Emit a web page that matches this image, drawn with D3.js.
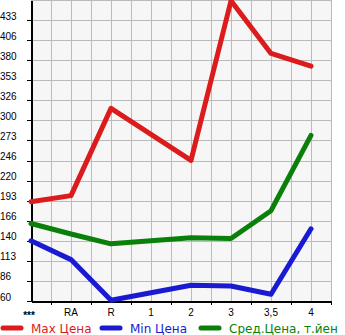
<!DOCTYPE html>
<html>
<head>
<meta charset="utf-8">
<script src="https://cdn.jsdelivr.net/npm/d3@7"></script>
<style>
    body { margin: 0; background: #fff; }
    svg { display: block; font-family: 'DejaVu Sans', sans-serif; }
    .grid line { stroke: #bbb; stroke-width: 1; shape-rendering: crispEdges; }
    .axis path, .axis line { stroke: #000; shape-rendering: crispEdges; }
    .axis text { font-size: 10px; fill: #000; }
    .series { fill: none; stroke-width: 5; stroke-linecap: round; stroke-linejoin: round; }
</style>
</head>
<body>
<svg id="chart"></svg>
<script>
const categories = ['***', 'RA', 'R', '1', '2', '3', '3,5', '4']
const maxPrice = [192, 200, 316, null, 247, 459, 389, 372]
const minPrice = [140, 115, 61, null, 81, 80, 69, 156]
const avgPrice = [163, 149, 136, null, 144, 143, 180, 280]
const yTickValues = [60, 86.67, 113.33, 140, 166.67, 193.33, 220, 246.67, 273.33, 300, 326.67, 353.33, 380, 406.67, 433.33]

const series = [
    { name: 'Max Цена', values: maxPrice, color: '#dc1c1c' },
    { name: 'Min Цена', values: minPrice, color: '#1a1ad2' },
    { name: 'Сред.Цена, т.йен', values: avgPrice, color: '#0a7f0a' },
]

const width = 345
const height = 335
const plotLeft = 31, plotRight = 331, plotTop = 0, plotBottom = 301

const svg = d3.select('#chart')
    .attr('width', width)
    .attr('height', height)

const x = d3.scaleLinear().domain([0, 7.5]).range([plotLeft, plotRight])
const y = d3.scaleLinear().domain([60, 460]).range([plotBottom, plotTop])

// plot background
svg.append('rect')
    .attr('x', plotLeft).attr('y', plotTop)
    .attr('width', plotRight - plotLeft).attr('height', plotBottom - plotTop)
    .attr('fill', '#f6f6f6')

// grid
const grid = svg.append('g').classed('grid', true)
grid.selectAll('line.v')
    .data(d3.range(0.5, 7.51, 0.5))
    .join('line')
    .attr('class', 'v')
    .attr('x1', d => Math.round(x(d)) + 0.5).attr('x2', d => Math.round(x(d)) + 0.5)
    .attr('y1', plotTop).attr('y2', plotBottom)
grid.selectAll('line.h')
    .data(yTickValues.concat([460]))
    .join('line')
    .attr('class', 'h')
    .attr('x1', plotLeft).attr('x2', plotRight)
    .attr('y1', d => Math.round(y(d)) + 0.5).attr('y2', d => Math.round(y(d)) + 0.5)

// y axis
const yAxis = svg.append('g')
    .classed('axis', true)
    .attr('transform', `translate(${plotLeft},0)`)
    .call(d3.axisLeft(y).tickValues(yTickValues).tickFormat(d => Math.floor(d)).tickSize(4).tickSizeOuter(0))
yAxis.select('.domain').attr('stroke-width', 2)
yAxis.selectAll('.tick text')
    .attr('text-anchor', 'start')
    .attr('x', -31)
    .attr('dy', '-0.1em')

// x axis: ticks between categories, labels on categories
const xAxis = svg.append('g')
    .classed('axis', true)
    .attr('transform', `translate(0,${plotBottom})`)
    .call(d3.axisBottom(x).tickValues(d3.range(0.5, 7.51, 1)).tickFormat('').tickSize(4).tickSizeOuter(0))
xAxis.select('.domain').attr('stroke-width', 2)
xAxis.selectAll('.label')
    .data(categories)
    .join('text')
    .attr('class', 'label')
    .attr('x', (d, i) => x(i) - (i === 0 ? 2 : 0))
    .attr('y', (d, i) => i === 0 ? 18 : 15)  // asterisks sit lower in the original
    .attr('text-anchor', 'middle')
    .style('font-weight', (d, i) => i === 0 ? 'bold' : null)
    .text(d => d)

// lines
const line = d3.line()
    .x(d => x(d[0]))
    .y(d => y(d[1]))

svg.append('g')
    .selectAll('path')
    .data(series)
    .join('path')
    .classed('series', true)
    .attr('stroke', d => d.color)
    .attr('d', d => line(d.values.map((v, i) => [i, v]).filter(p => p[1] != null)))

// legend
const legendX = [0, 99, 198]
const legend = svg.append('g')
    .selectAll('g')
    .data(series)
    .join('g')
    .attr('transform', (d, i) => `translate(${legendX[i]},328)`)
legend.append('line')
    .attr('x1', 3).attr('x2', 21)
    .attr('stroke', d => d.color)
    .attr('stroke-width', 5)
    .attr('stroke-linecap', 'round')
legend.append('text')
    .attr('x', 31)
    .attr('y', 5)
    .attr('font-size', 12)
    .attr('fill', d => d.color)
    .text(d => d.name)
</script>
</body>
</html>
